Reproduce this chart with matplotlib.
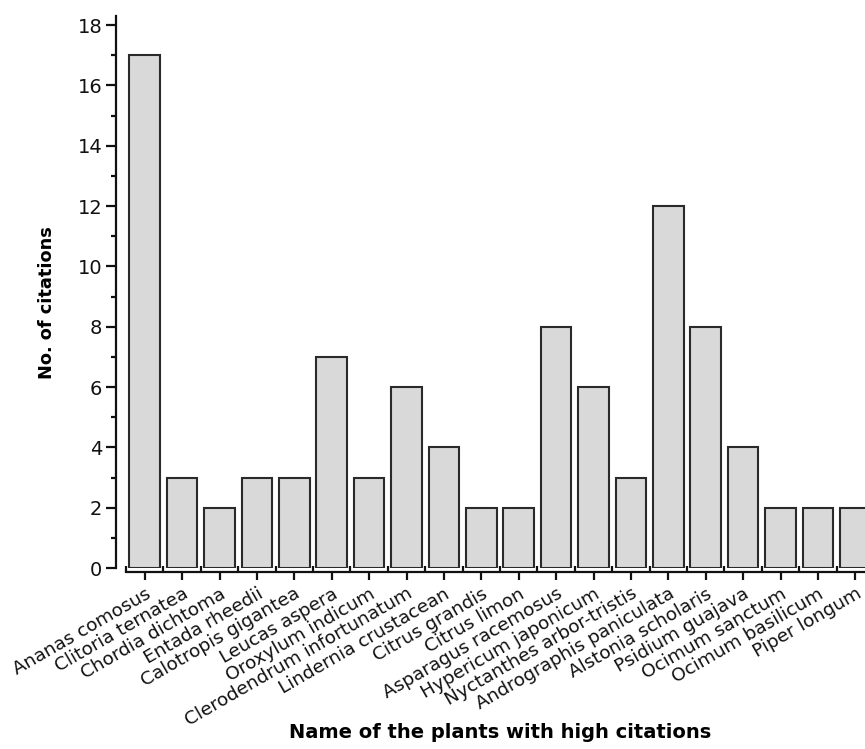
import matplotlib
matplotlib.use("Agg")
import matplotlib.pyplot as plt
import numpy as np
from matplotlib.ticker import MultipleLocator, FixedLocator

plants = ["Ananas comosus", "Clitoria ternatea", "Chordia dichtoma", "Entada rheedii",
          "Calotropis gigantea", "Leucas aspera", "Oroxylum indicum",
          "Clerodendrum infortunatum", "Lindernia crustacean", "Citrus grandis",
          "Citrus limon", "Asparagus racemosus", "Hypericum japonicum",
          "Nyctanthes arbor-tristis", "Andrographis paniculata", "Alstonia scholaris",
          "Psidium guajava", "Ocimum sanctum", "Ocimum basilicum", "Piper longum"]
citations = [17, 3, 2, 3, 3, 7, 3, 6, 4, 2, 2, 8, 6, 3, 12, 8, 4, 2, 2, 2]
yticks = [0, 2, 4, 6, 8, 10, 12, 14, 16, 18]

plt.rcParams['font.family'] = ['DejaVu Sans']

fig = plt.figure(figsize=(8.65, 7.49), dpi=100)
ax = fig.add_axes([126/865, 181/749, 748/865, 552/749])

x = np.arange(len(plants))
ax.bar(x, citations, width=0.82, color='#d9d9d9', edgecolor='#2a2a2a', linewidth=1.5)

ax.set_xlim(-0.5, len(plants) - 0.5)
ax.set_ylim(0, 18.3)

for s in ['top', 'right']:
    ax.spines[s].set_visible(False)
ax.spines['left'].set_position(('outward', 7))
ax.spines['bottom'].set_position(('outward', 3))
ax.spines['left'].set_bounds(0, 18.3)
for s in ['left', 'bottom']:
    ax.spines[s].set_linewidth(1.6)
    ax.spines[s].set_color('#111111')

ax.set_yticks(yticks)
ax.yaxis.set_minor_locator(MultipleLocator(1))
ax.tick_params(axis='y', which='major', length=7, width=1.6, labelsize=14, pad=3, colors='#111111')
ax.tick_params(axis='y', which='minor', length=3.5, width=1.6, colors='#111111')

ax.set_xticks(x)
ax.set_xticklabels(plants, rotation=30, ha='right', rotation_mode='anchor', fontsize=13.3)
ax.xaxis.set_minor_locator(FixedLocator(np.arange(-0.5, len(plants), 1.0)))
ax.tick_params(axis='x', which='major', length=6, width=1.6, pad=3, colors='#111111')
ax.tick_params(axis='x', which='minor', direction='in', length=4, width=1.6, colors='#111111')

fig.text(47/865, 1 - 303/749, "No. of citations", fontsize=12.8, fontweight='bold',
         rotation=90, ha='center', va='center')
fig.text(500/865, 1 - 733/749, "Name of the plants with high citations", fontsize=14,
         fontweight='bold', ha='center', va='center')

fig.savefig("out.png", dpi=100)
